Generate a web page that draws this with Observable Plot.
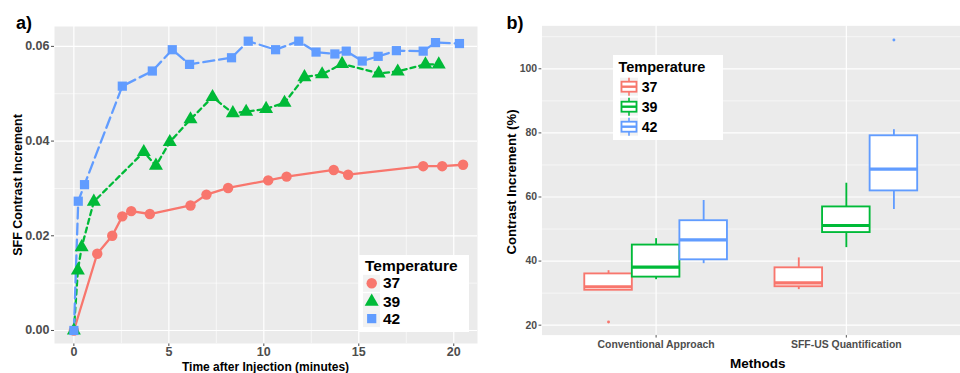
<!DOCTYPE html>
<html>
<head>
<meta charset="utf-8">
<script src="https://cdn.jsdelivr.net/npm/d3@7"></script>
<script src="https://cdn.jsdelivr.net/npm/@observablehq/plot@0.6"></script>
<style>
  html, body { margin: 0; padding: 0; background: #fff; }
  #wrap { position: relative; width: 960px; height: 373px; overflow: hidden; background: #fff;
          font-family: 'Liberation Sans', Arial, sans-serif; font-weight: bold; }
  .abs { position: absolute; line-height: 1; white-space: nowrap; }
  .c { transform: translate(-50%, -50%); }
  .cy { transform: translateY(-50%); }
  .rot { transform: translate(-50%, -50%) rotate(-90deg); }
  .legend { position: absolute; background: #fff; }
</style>
</head>
<body>
<div id="wrap">
  <div id="left" style="position:absolute;left:0;top:0;width:480px;height:373px;"></div>
  <div id="right" style="position:absolute;left:480px;top:0;width:480px;height:373px;overflow:hidden;"></div>
</div>
<script>
// ---------- Panel a) data ----------
const temps = ["37", "39", "42"];
const colors = ["#F8766D", "#00BA38", "#619CFF"];

const time37 = [0, 1.23, 2.02, 2.55, 3.02, 4.0, 6.14, 6.98, 8.12, 10.23, 11.2, 13.68, 14.44, 18.39, 19.39, 20.49];
const value37 = [0, 0.0162, 0.0200, 0.0241, 0.0252, 0.0246, 0.0264, 0.0287, 0.0301, 0.0317, 0.0325, 0.0339, 0.0329, 0.0347, 0.0347, 0.0350];

const time39 = [0, 0.21, 0.41, 1.05, 3.68, 4.32, 5.05, 6.14, 7.3, 8.37, 9.07, 10.12, 11.09, 12.14, 13.07, 14.12, 16.05, 17.05, 18.51, 19.21];
const value39 = [0, 0.0127, 0.0176, 0.0272, 0.0377, 0.0348, 0.0398, 0.0446, 0.0493, 0.0459, 0.0462, 0.0468, 0.0481, 0.0535, 0.0541, 0.0563, 0.0543, 0.0547, 0.0562, 0.0562];

const time42 = [0, 0.23, 0.56, 2.55, 4.13, 5.18, 6.09, 8.3, 9.18, 10.62, 11.84, 12.75, 13.74, 14.34, 15.18, 16.02, 16.98, 18.39, 19.04, 20.3];
const value42 = [0, 0.0273, 0.0308, 0.0516, 0.0548, 0.0593, 0.0562, 0.0576, 0.0611, 0.0593, 0.0611, 0.0588, 0.0584, 0.0590, 0.0569, 0.0579, 0.0591, 0.0590, 0.0608, 0.0606];

const timeTicks = [0, 5, 10, 15, 20];
const timeMinor = [2.5, 7.5, 12.5, 17.5];
const sffTicks = [0, 0.02, 0.04, 0.06];
const sffMinor = [0.01, 0.03, 0.05];

// ---------- Panel b) data ----------
const methods = ["Conventional Approach", "SFF-US Quantification"];
const boxMethod = ["Conventional Approach", "Conventional Approach", "Conventional Approach",
                   "SFF-US Quantification", "SFF-US Quantification", "SFF-US Quantification"];
const boxTemp = ["37", "39", "42", "37", "39", "42"];
const whiskerLow = [30.9, 34.2, 39.2, 31.1, 44.2, 56.1];
const quart1 = [30.9, 35.0, 40.4, 32.0, 48.9, 61.9];
const median = [32.0, 38.1, 46.6, 33.2, 51.1, 68.7];
const quart3 = [36.0, 45.0, 52.6, 37.9, 56.9, 79.1];
const whiskerHigh = [37.0, 47.0, 58.9, 41.0, 64.3, 81.0];
const outMethod = ["Conventional Approach", "SFF-US Quantification"];
const outTemp = ["37", "42"];
const outValue = [21.0, 109.0];

const pctTicks = [20, 40, 60, 80, 100];
const pctMinor = [30, 50, 70, 90, 110];

// ---------- build tables ----------
const series = [
  {temp: "37", t: time37, v: value37, dash: null},
  {temp: "39", t: time39, v: value39, dash: "5,4"},
  {temp: "42", t: time42, v: value42, dash: "11,5"}
];
const rowsOf = s => s.t.map((t, i) => ({temp: s.temp, t, v: s.v[i]}));
const allRows = series.flatMap(rowsOf);

const fontStyle = {
  fontFamily: "'Liberation Sans', Arial, sans-serif",
  fontWeight: "bold",
  color: "#4D4D4D",
  background: "transparent",
  overflow: "visible"
};

const left = Plot.plot({
  width: 480, height: 373,
  marginLeft: 54, marginRight: 3, marginTop: 26, marginBottom: 30,
  style: {...fontStyle, fontSize: "12.5px"},
  x: {domain: [-1.02, 21.25], ticks: timeTicks, tickSize: 3, tickPadding: 1, label: null},
  y: {domain: [-0.00275, 0.0642], ticks: sffTicks, tickSize: 3, tickPadding: 2, tickFormat: d3.format(".2f"), label: null},
  color: {domain: temps, range: colors},
  symbol: {domain: temps, range: ["circle", "triangle", "square"]},
  marks: [
    Plot.frame({fill: "#EBEBEB", stroke: "none"}),
    Plot.ruleX(timeMinor, {stroke: "white", strokeWidth: 0.6}),
    Plot.ruleY(sffMinor, {stroke: "white", strokeWidth: 0.6}),
    Plot.ruleX(timeTicks, {stroke: "white", strokeWidth: 1.2}),
    Plot.ruleY(sffTicks, {stroke: "white", strokeWidth: 1.2}),
    ...series.map(s => Plot.line(rowsOf(s), {
      x: "t", y: "v", stroke: "temp", strokeWidth: 2.3,
      strokeDasharray: s.dash || undefined
    })),
    Plot.dot(allRows, {x: "t", y: "v", fill: "temp", symbol: "temp", r: 5.2, stroke: "none"})
  ]
});
document.getElementById("left").appendChild(left);

const boxRows = boxMethod.map((m, i) => ({
  temp: boxTemp[i],
  x: methods.indexOf(m) + 1 + (temps.indexOf(boxTemp[i]) - 1) * 0.25,
  lo: whiskerLow[i], q1: quart1[i], med: median[i], q3: quart3[i], hi: whiskerHigh[i]
}));
const outRows = outMethod.map((m, i) => ({
  temp: outTemp[i],
  x: methods.indexOf(m) + 1 + (temps.indexOf(outTemp[i]) - 1) * 0.25,
  v: outValue[i]
}));
const hw = 0.125;

const right = Plot.plot({
  width: 492, height: 373,
  marginLeft: 63, marginRight: 0, marginTop: 26, marginBottom: 30,
  style: {...fontStyle, fontSize: "10.7px"},
  x: {domain: [0.4, 2.6], ticks: [1, 2], tickFormat: d => methods[d - 1], tickSize: 3, tickPadding: 3, label: null},
  y: {domain: [16.9, 113.4], ticks: pctTicks, tickSize: 3, tickPadding: 2, label: null},
  color: {domain: temps, range: colors},
  marks: [
    Plot.frame({fill: "#EBEBEB", stroke: "none"}),
    Plot.ruleY(pctMinor, {stroke: "white", strokeWidth: 0.6}),
    Plot.ruleY(pctTicks, {stroke: "white", strokeWidth: 1.2}),
    Plot.ruleX([1, 2], {stroke: "white", strokeWidth: 1.2}),
    Plot.ruleX(boxRows, {x: "x", y1: "q3", y2: "hi", stroke: "temp", strokeWidth: 1.9}),
    Plot.ruleX(boxRows, {x: "x", y1: "lo", y2: "q1", stroke: "temp", strokeWidth: 1.9}),
    Plot.rect(boxRows, {x1: d => d.x - hw, x2: d => d.x + hw, y1: "q1", y2: "q3", fill: "white", stroke: "temp", strokeWidth: 1.9}),
    Plot.ruleY(boxRows, {y: "med", x1: d => d.x - hw, x2: d => d.x + hw, stroke: "temp", strokeWidth: 3.2}),
    Plot.dot(outRows, {x: "x", y: "v", fill: "temp", r: 1.5, stroke: "none"})
  ]
});
document.getElementById("right").appendChild(right);

// ---------- HTML text & legends ----------
const wrap = document.getElementById("wrap");
function txt(s, x, y, size, cls, color) {
  const d = document.createElement("div");
  d.className = "abs " + cls;
  d.style.left = x + "px";
  d.style.top = y + "px";
  d.style.fontSize = size + "px";
  d.style.color = color || "#000";
  d.textContent = s;
  wrap.appendChild(d);
  return d;
}
const NS = "http://www.w3.org/2000/svg";
function svgEl(tag, attrs, parent) {
  const e = document.createElementNS(NS, tag);
  for (const k in attrs) e.setAttribute(k, attrs[k]);
  if (parent) parent.appendChild(e);
  return e;
}
function legendBox(x, y, w, h) {
  const d = document.createElement("div");
  d.className = "legend";
  Object.assign(d.style, {left: x + "px", top: y + "px", width: w + "px", height: h + "px"});
  wrap.appendChild(d);
}

// legend backgrounds first
legendBox(359, 255, 110, 77);
legendBox(613, 55, 110, 85);

// overlay svg for legend keys (above the legend boxes)
const ov = svgEl("svg", {width: 960, height: 373});
ov.style.position = "absolute"; ov.style.left = "0"; ov.style.top = "0";
wrap.appendChild(ov);

txt("a)", 24, 23, 18, "c");
txt("b)", 515, 23, 18, "c");
txt("SFF Contrast Increment", 18.3, 184.5, 12.5, "rot");
txt("Time after Injection (minutes)", 265.5, 366.6, 12, "c");
txt("Contrast Increment (%)", 511.7, 182, 13.2, "rot");
txt("Methods", 757.7, 364.3, 13.5, "c");

// Left legend
txt("Temperature", 365, 265.5, 15.5, "cy");
const legY1 = [283.3, 301.7, 318.6];
const symTypes = [d3.symbolCircle, d3.symbolTriangle, d3.symbolSquare];
temps.forEach((t, i) => {
  svgEl("rect", {x: 363, y: legY1[i] - 8.5, width: 17, height: 17, fill: "#F2F2F2"}, ov);
  svgEl("path", {d: d3.symbol(symTypes[i], Math.PI * 5.2 * 5.2)(),
    transform: `translate(371.7,${legY1[i]})`, fill: colors[i]}, ov);
  txt(t, 383, legY1[i], 15.5, "cy");
});

// Right legend
txt("Temperature", 618.5, 67, 14.5, "cy");
const legY2 = [86.7, 106.7, 126.7];
temps.forEach((t, i) => {
  const y = legY2[i];
  svgEl("rect", {x: 620, y: y - 9, width: 18, height: 18, fill: "#F2F2F2"}, ov);
  svgEl("line", {x1: 629, x2: 629, y1: y - 9, y2: y + 9, stroke: colors[i], "stroke-width": 1.6}, ov);
  svgEl("rect", {x: 621.5, y: y - 5, width: 15, height: 10, fill: "white", stroke: colors[i], "stroke-width": 1.8}, ov);
  svgEl("line", {x1: 621.5, x2: 636.5, y1: y, y2: y, stroke: colors[i], "stroke-width": 2.4}, ov);
  txt(t, 641.7, y, 14.2, "cy");
});
</script>
</body>
</html>
